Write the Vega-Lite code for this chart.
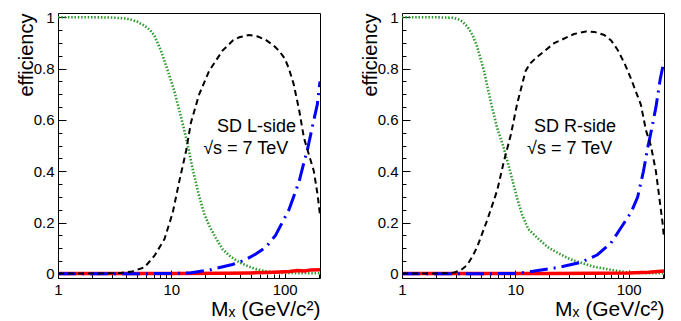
{
  "$schema": "https://vega.github.io/schema/vega-lite/v6.json",
  "padding": {"left": 15, "top": 9, "right": 0, "bottom": 0},
  "spacing": 38,
  "config": {
    "view": {"stroke": "#000", "strokeWidth": 1},
    "font": "Liberation Sans",
    "axis": {"labelFont": "Liberation Sans", "titleFont": "Liberation Sans", "labelColor": "#000", "titleColor": "#000", "tickColor": "#000", "labelFontSize": 15, "titleFontWeight": "normal", "grid": false, "domain": false}
  },
  "datasets": {
    "d": [
      {"panel": "L", "series": "green", "x": 1, "y": 1.0},
      {"panel": "L", "series": "green", "x": 2, "y": 1.0},
      {"panel": "L", "series": "green", "x": 3, "y": 0.999},
      {"panel": "L", "series": "green", "x": 4, "y": 0.995},
      {"panel": "L", "series": "green", "x": 4.5, "y": 0.99},
      {"panel": "L", "series": "green", "x": 5, "y": 0.983},
      {"panel": "L", "series": "green", "x": 5.8, "y": 0.967},
      {"panel": "L", "series": "green", "x": 6.5, "y": 0.95},
      {"panel": "L", "series": "green", "x": 7.1, "y": 0.928},
      {"panel": "L", "series": "green", "x": 8.1, "y": 0.87},
      {"panel": "L", "series": "green", "x": 9.3, "y": 0.792},
      {"panel": "L", "series": "green", "x": 10.6, "y": 0.714},
      {"panel": "L", "series": "green", "x": 12.2, "y": 0.61},
      {"panel": "L", "series": "green", "x": 13.5, "y": 0.53},
      {"panel": "L", "series": "green", "x": 14.4, "y": 0.474},
      {"panel": "L", "series": "green", "x": 15.4, "y": 0.41},
      {"panel": "L", "series": "green", "x": 17.6, "y": 0.303},
      {"panel": "L", "series": "green", "x": 19.5, "y": 0.235},
      {"panel": "L", "series": "green", "x": 21.6, "y": 0.188},
      {"panel": "L", "series": "green", "x": 24.7, "y": 0.14},
      {"panel": "L", "series": "green", "x": 28.3, "y": 0.097},
      {"panel": "L", "series": "green", "x": 32.4, "y": 0.072},
      {"panel": "L", "series": "green", "x": 39.6, "y": 0.046},
      {"panel": "L", "series": "green", "x": 45.4, "y": 0.034},
      {"panel": "L", "series": "green", "x": 55.6, "y": 0.019},
      {"panel": "L", "series": "green", "x": 68, "y": 0.011},
      {"panel": "L", "series": "green", "x": 83, "y": 0.005},
      {"panel": "L", "series": "green", "x": 100, "y": 0.004},
      {"panel": "L", "series": "green", "x": 140, "y": 0.003},
      {"panel": "L", "series": "green", "x": 205, "y": 0.003},

      {"panel": "L", "series": "black", "x": 1, "y": 0.002},
      {"panel": "L", "series": "black", "x": 2, "y": 0.002},
      {"panel": "L", "series": "black", "x": 3, "y": 0.003},
      {"panel": "L", "series": "black", "x": 3.6, "y": 0.004},
      {"panel": "L", "series": "black", "x": 4.5, "y": 0.01},
      {"panel": "L", "series": "black", "x": 5.8, "y": 0.026},
      {"panel": "L", "series": "black", "x": 7.1, "y": 0.071},
      {"panel": "L", "series": "black", "x": 8.7, "y": 0.136},
      {"panel": "L", "series": "black", "x": 10.3, "y": 0.24},
      {"panel": "L", "series": "black", "x": 11.7, "y": 0.357},
      {"panel": "L", "series": "black", "x": 13.5, "y": 0.48},
      {"panel": "L", "series": "black", "x": 14.9, "y": 0.59},
      {"panel": "L", "series": "black", "x": 17.6, "y": 0.7},
      {"panel": "L", "series": "black", "x": 21.6, "y": 0.792},
      {"panel": "L", "series": "black", "x": 28.3, "y": 0.87},
      {"panel": "L", "series": "black", "x": 35, "y": 0.91},
      {"panel": "L", "series": "black", "x": 39.7, "y": 0.922},
      {"panel": "L", "series": "black", "x": 48.5, "y": 0.931},
      {"panel": "L", "series": "black", "x": 58, "y": 0.925},
      {"panel": "L", "series": "black", "x": 68, "y": 0.912},
      {"panel": "L", "series": "black", "x": 80, "y": 0.89},
      {"panel": "L", "series": "black", "x": 89, "y": 0.87},
      {"panel": "L", "series": "black", "x": 100, "y": 0.84},
      {"panel": "L", "series": "black", "x": 109, "y": 0.8},
      {"panel": "L", "series": "black", "x": 120, "y": 0.74},
      {"panel": "L", "series": "black", "x": 134, "y": 0.64},
      {"panel": "L", "series": "black", "x": 148, "y": 0.53},
      {"panel": "L", "series": "black", "x": 165, "y": 0.46},
      {"panel": "L", "series": "black", "x": 181, "y": 0.4},
      {"panel": "L", "series": "black", "x": 195, "y": 0.31},
      {"panel": "L", "series": "black", "x": 205, "y": 0.23},

      {"panel": "L", "series": "blue", "x": 1, "y": 0.001},
      {"panel": "L", "series": "blue", "x": 5, "y": 0.001},
      {"panel": "L", "series": "blue", "x": 10, "y": 0.002},
      {"panel": "L", "series": "blue", "x": 15, "y": 0.005},
      {"panel": "L", "series": "blue", "x": 17.6, "y": 0.01},
      {"panel": "L", "series": "blue", "x": 21.6, "y": 0.015},
      {"panel": "L", "series": "blue", "x": 24.7, "y": 0.022},
      {"panel": "L", "series": "blue", "x": 34.6, "y": 0.037},
      {"panel": "L", "series": "blue", "x": 45, "y": 0.055},
      {"panel": "L", "series": "blue", "x": 55.6, "y": 0.078},
      {"panel": "L", "series": "blue", "x": 68, "y": 0.104},
      {"panel": "L", "series": "blue", "x": 83, "y": 0.15},
      {"panel": "L", "series": "blue", "x": 95, "y": 0.2},
      {"panel": "L", "series": "blue", "x": 109, "y": 0.25},
      {"panel": "L", "series": "blue", "x": 122, "y": 0.31},
      {"panel": "L", "series": "blue", "x": 134, "y": 0.36},
      {"panel": "L", "series": "blue", "x": 147, "y": 0.43},
      {"panel": "L", "series": "blue", "x": 158, "y": 0.48},
      {"panel": "L", "series": "blue", "x": 175, "y": 0.571},
      {"panel": "L", "series": "blue", "x": 194, "y": 0.66},
      {"panel": "L", "series": "blue", "x": 205, "y": 0.75},

      {"panel": "L", "series": "red", "x": 1, "y": 0.002},
      {"panel": "L", "series": "red", "x": 10, "y": 0.002},
      {"panel": "L", "series": "red", "x": 30, "y": 0.003},
      {"panel": "L", "series": "red", "x": 50, "y": 0.004},
      {"panel": "L", "series": "red", "x": 70, "y": 0.006},
      {"panel": "L", "series": "red", "x": 90, "y": 0.008},
      {"panel": "L", "series": "red", "x": 110, "y": 0.01},
      {"panel": "L", "series": "red", "x": 130, "y": 0.014},
      {"panel": "L", "series": "red", "x": 150, "y": 0.012},
      {"panel": "L", "series": "red", "x": 170, "y": 0.016},
      {"panel": "L", "series": "red", "x": 205, "y": 0.017},

      {"panel": "R", "series": "green", "x": 1, "y": 1.0},
      {"panel": "R", "series": "green", "x": 2, "y": 1.0},
      {"panel": "R", "series": "green", "x": 2.8, "y": 0.998},
      {"panel": "R", "series": "green", "x": 3.1, "y": 0.993},
      {"panel": "R", "series": "green", "x": 3.4, "y": 0.984},
      {"panel": "R", "series": "green", "x": 3.8, "y": 0.962},
      {"panel": "R", "series": "green", "x": 4.2, "y": 0.93},
      {"panel": "R", "series": "green", "x": 4.6, "y": 0.886},
      {"panel": "R", "series": "green", "x": 5.3, "y": 0.79},
      {"panel": "R", "series": "green", "x": 6.0, "y": 0.68},
      {"panel": "R", "series": "green", "x": 6.9, "y": 0.57},
      {"panel": "R", "series": "green", "x": 7.8, "y": 0.5},
      {"panel": "R", "series": "green", "x": 9.0, "y": 0.4},
      {"panel": "R", "series": "green", "x": 10.3, "y": 0.3},
      {"panel": "R", "series": "green", "x": 11.5, "y": 0.23},
      {"panel": "R", "series": "green", "x": 13, "y": 0.175},
      {"panel": "R", "series": "green", "x": 15.7, "y": 0.14},
      {"panel": "R", "series": "green", "x": 19.3, "y": 0.105},
      {"panel": "R", "series": "green", "x": 22, "y": 0.09},
      {"panel": "R", "series": "green", "x": 28.9, "y": 0.062},
      {"panel": "R", "series": "green", "x": 33, "y": 0.052},
      {"panel": "R", "series": "green", "x": 49.7, "y": 0.028},
      {"panel": "R", "series": "green", "x": 74.7, "y": 0.014},
      {"panel": "R", "series": "green", "x": 100, "y": 0.006},
      {"panel": "R", "series": "green", "x": 150, "y": 0.003},
      {"panel": "R", "series": "green", "x": 205, "y": 0.003},

      {"panel": "R", "series": "black", "x": 1, "y": 0.002},
      {"panel": "R", "series": "black", "x": 2, "y": 0.002},
      {"panel": "R", "series": "black", "x": 2.6, "y": 0.003},
      {"panel": "R", "series": "black", "x": 2.9, "y": 0.006},
      {"panel": "R", "series": "black", "x": 3.3, "y": 0.015},
      {"panel": "R", "series": "black", "x": 3.76, "y": 0.035},
      {"panel": "R", "series": "black", "x": 4.2, "y": 0.07},
      {"panel": "R", "series": "black", "x": 4.61, "y": 0.106},
      {"panel": "R", "series": "black", "x": 5.65, "y": 0.21},
      {"panel": "R", "series": "black", "x": 6.93, "y": 0.327},
      {"panel": "R", "series": "black", "x": 7.94, "y": 0.44},
      {"panel": "R", "series": "black", "x": 9.1, "y": 0.54},
      {"panel": "R", "series": "black", "x": 10.4, "y": 0.665},
      {"panel": "R", "series": "black", "x": 11.5, "y": 0.74},
      {"panel": "R", "series": "black", "x": 12.3, "y": 0.79},
      {"panel": "R", "series": "black", "x": 13.5, "y": 0.82},
      {"panel": "R", "series": "black", "x": 15.7, "y": 0.847},
      {"panel": "R", "series": "black", "x": 22, "y": 0.899},
      {"panel": "R", "series": "black", "x": 33, "y": 0.935},
      {"panel": "R", "series": "black", "x": 42, "y": 0.945},
      {"panel": "R", "series": "black", "x": 50, "y": 0.943},
      {"panel": "R", "series": "black", "x": 60.8, "y": 0.931},
      {"panel": "R", "series": "black", "x": 70, "y": 0.91},
      {"panel": "R", "series": "black", "x": 80, "y": 0.873},
      {"panel": "R", "series": "black", "x": 92, "y": 0.82},
      {"panel": "R", "series": "black", "x": 105, "y": 0.76},
      {"panel": "R", "series": "black", "x": 128, "y": 0.66},
      {"panel": "R", "series": "black", "x": 142, "y": 0.56},
      {"panel": "R", "series": "black", "x": 157, "y": 0.5},
      {"panel": "R", "series": "black", "x": 174, "y": 0.4},
      {"panel": "R", "series": "black", "x": 199, "y": 0.2},
      {"panel": "R", "series": "black", "x": 205, "y": 0.14},

      {"panel": "R", "series": "blue", "x": 1, "y": 0.001},
      {"panel": "R", "series": "blue", "x": 5, "y": 0.001},
      {"panel": "R", "series": "blue", "x": 10, "y": 0.002},
      {"panel": "R", "series": "blue", "x": 13, "y": 0.008},
      {"panel": "R", "series": "blue", "x": 23.5, "y": 0.025},
      {"panel": "R", "series": "blue", "x": 37.8, "y": 0.045},
      {"panel": "R", "series": "blue", "x": 53, "y": 0.075},
      {"panel": "R", "series": "blue", "x": 69.6, "y": 0.12},
      {"panel": "R", "series": "blue", "x": 85.5, "y": 0.18},
      {"panel": "R", "series": "blue", "x": 105, "y": 0.24},
      {"panel": "R", "series": "blue", "x": 120, "y": 0.3},
      {"panel": "R", "series": "blue", "x": 135, "y": 0.4},
      {"panel": "R", "series": "blue", "x": 147, "y": 0.49},
      {"panel": "R", "series": "blue", "x": 157, "y": 0.55},
      {"panel": "R", "series": "blue", "x": 174, "y": 0.65},
      {"panel": "R", "series": "blue", "x": 190, "y": 0.76},
      {"panel": "R", "series": "blue", "x": 205, "y": 0.83},

      {"panel": "R", "series": "red", "x": 1, "y": 0.002},
      {"panel": "R", "series": "red", "x": 20, "y": 0.002},
      {"panel": "R", "series": "red", "x": 50, "y": 0.003},
      {"panel": "R", "series": "red", "x": 100, "y": 0.004},
      {"panel": "R", "series": "red", "x": 150, "y": 0.007},
      {"panel": "R", "series": "red", "x": 205, "y": 0.012}
    ]
  },
  "hconcat": [
    {
      "width": 262,
      "height": 265,
      "data": {"name": "d"},
      "encoding": {
        "x": {"field": "x", "type": "quantitative",
          "scale": {"type": "log", "domain": [1, 205], "nice": false},
          "axis": {
            "values": [1,2,3,4,5,6,7,8,9,10,20,30,40,50,60,70,80,90,100,200],
            "format": "~g",
            "tickSize": {"condition": {"test": "datum.value == 1 || datum.value == 10 || datum.value == 100", "value": -8}, "value": -4},
            "labelExpr": "datum.value == 1 || datum.value == 10 || datum.value == 100 ? datum.label : ''",
            "labelOverlap": false, "labelFlush": false, "labelBound": false, "labelPadding": 12,
            "title": "Mₓ (GeV/c²)", "titleFontSize": 21, "titleAnchor": "end", "titlePadding": 3, "minExtent": 17, "maxExtent": 17
          }
        },
        "y": {"field": "y", "type": "quantitative",
          "scale": {"domain": [-0.0156, 1.0167], "nice": false, "zero": false},
          "axis": {
            "values": [0,0.05,0.1,0.15,0.2,0.25,0.3,0.35,0.4,0.45,0.5,0.55,0.6,0.65,0.7,0.75,0.8,0.85,0.9,0.95,1],
            "tickSize": {"condition": {"test": "abs(datum.value*5 - round(datum.value*5)) < 0.0001", "value": -8}, "value": -4},
            "labelExpr": "abs(datum.value*5 - round(datum.value*5)) < 0.0001 ? format(datum.value, '~g') : ''",
            "labelOverlap": false, "labelFlush": false, "labelBound": false, "labelPadding": 12,
            "title": "efficiency", "titleFontSize": 20, "titleAnchor": "end", "titlePadding": 1, "minExtent": 21, "maxExtent": 21
          }
        }
      },
      "layer": [
        {"transform": [{"filter": "datum.panel == 'L' && datum.series == 'green'"}], "mark": {"type": "line", "color": "#2e9a2e", "strokeWidth": 2.6, "strokeDash": [1.5, 1.8], "clip": true}},
        {"transform": [{"filter": "datum.panel == 'L' && datum.series == 'red'"}], "mark": {"type": "line", "color": "#ff0000", "strokeWidth": 3.5, "clip": true}},
        {"transform": [{"filter": "datum.panel == 'L' && datum.series == 'blue'"}], "mark": {"type": "line", "color": "#0000ff", "strokeWidth": 3, "strokeDash": [18, 6, 2, 6], "clip": true}},
        {"transform": [{"filter": "datum.panel == 'L' && datum.series == 'black'"}], "mark": {"type": "line", "color": "#000000", "strokeWidth": 2, "strokeDash": [6, 4], "clip": true}},
        {"transform": [{"filter": "datum.panel == 'L' && datum.series == 'red' && datum.x == 1"}],
          "mark": {"type": "text", "align": "left", "baseline": "alphabetic", "fontSize": 18, "font": "Liberation Sans", "color": "#000", "text": "SD L-side"},
          "encoding": {"x": {"datum": 25.3}, "y": {"datum": 0.553}}},
        {"transform": [{"filter": "datum.panel == 'L' && datum.series == 'red' && datum.x == 1"}],
          "mark": {"type": "text", "align": "left", "baseline": "alphabetic", "fontSize": 18, "font": "Liberation Sans", "color": "#000", "text": "√s = 7 TeV"},
          "encoding": {"x": {"datum": 19.1}, "y": {"datum": 0.467}}}
      ]
    },
    {
      "width": 262,
      "height": 265,
      "data": {"name": "d"},
      "encoding": {
        "x": {"field": "x", "type": "quantitative",
          "scale": {"type": "log", "domain": [1, 205], "nice": false},
          "axis": {
            "values": [1,2,3,4,5,6,7,8,9,10,20,30,40,50,60,70,80,90,100,200],
            "format": "~g",
            "tickSize": {"condition": {"test": "datum.value == 1 || datum.value == 10 || datum.value == 100", "value": -8}, "value": -4},
            "labelExpr": "datum.value == 1 || datum.value == 10 || datum.value == 100 ? datum.label : ''",
            "labelOverlap": false, "labelFlush": false, "labelBound": false, "labelPadding": 12,
            "title": "Mₓ (GeV/c²)", "titleFontSize": 21, "titleAnchor": "end", "titlePadding": 3, "minExtent": 17, "maxExtent": 17
          }
        },
        "y": {"field": "y", "type": "quantitative",
          "scale": {"domain": [-0.0156, 1.0167], "nice": false, "zero": false},
          "axis": {
            "values": [0,0.05,0.1,0.15,0.2,0.25,0.3,0.35,0.4,0.45,0.5,0.55,0.6,0.65,0.7,0.75,0.8,0.85,0.9,0.95,1],
            "tickSize": {"condition": {"test": "abs(datum.value*5 - round(datum.value*5)) < 0.0001", "value": -8}, "value": -4},
            "labelExpr": "abs(datum.value*5 - round(datum.value*5)) < 0.0001 ? format(datum.value, '~g') : ''",
            "labelOverlap": false, "labelFlush": false, "labelBound": false, "labelPadding": 12,
            "title": "efficiency", "titleFontSize": 20, "titleAnchor": "end", "titlePadding": 1, "minExtent": 21, "maxExtent": 21
          }
        }
      },
      "layer": [
        {"transform": [{"filter": "datum.panel == 'R' && datum.series == 'green'"}], "mark": {"type": "line", "color": "#2e9a2e", "strokeWidth": 2.6, "strokeDash": [1.5, 1.8], "clip": true}},
        {"transform": [{"filter": "datum.panel == 'R' && datum.series == 'red'"}], "mark": {"type": "line", "color": "#ff0000", "strokeWidth": 3.5, "clip": true}},
        {"transform": [{"filter": "datum.panel == 'R' && datum.series == 'blue'"}], "mark": {"type": "line", "color": "#0000ff", "strokeWidth": 3, "strokeDash": [18, 6, 2, 6], "clip": true}},
        {"transform": [{"filter": "datum.panel == 'R' && datum.series == 'black'"}], "mark": {"type": "line", "color": "#000000", "strokeWidth": 2, "strokeDash": [6, 4], "clip": true}},
        {"transform": [{"filter": "datum.panel == 'R' && datum.series == 'red' && datum.x == 1"}],
          "mark": {"type": "text", "align": "left", "baseline": "alphabetic", "fontSize": 18, "font": "Liberation Sans", "color": "#000", "text": "SD R-side"},
          "encoding": {"x": {"datum": 14.6}, "y": {"datum": 0.553}}},
        {"transform": [{"filter": "datum.panel == 'R' && datum.series == 'red' && datum.x == 1"}],
          "mark": {"type": "text", "align": "left", "baseline": "alphabetic", "fontSize": 18, "font": "Liberation Sans", "color": "#000", "text": "√s = 7 TeV"},
          "encoding": {"x": {"datum": 12.7}, "y": {"datum": 0.467}}}
      ]
    }
  ]
}
